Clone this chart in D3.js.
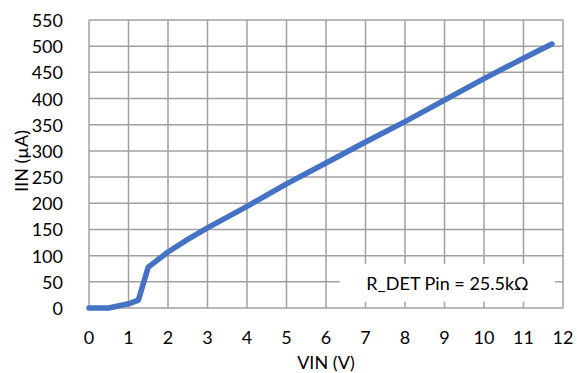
<!DOCTYPE html>
<html>
<head>
<meta charset="utf-8">
<script src="https://cdn.jsdelivr.net/npm/d3@7/dist/d3.min.js"></script>
<style>
  html, body { margin: 0; padding: 0; background: #fff; }
  svg text { font-family: Lato, "Open Sans", sans-serif; fill: #000; }
</style>
</head>
<body>
<div id="chart"></div>
<script>
// VIN (V) vs IIN (uA)
const vin = [0, 0.5, 1, 1.25, 1.5, 2, 2.5, 3, 4, 5, 6, 7, 8, 9, 10, 11, 11.72];
const iin = [0, 0, 8, 15, 78, 107, 131, 153, 194, 237, 277, 317, 356, 397, 438, 477, 504];
const xTicks = [0, 1, 2, 3, 4, 5, 6, 7, 8, 9, 10, 11, 12];
const yTicks = [0, 50, 100, 150, 200, 250, 300, 350, 400, 450, 500, 550];
const note = 'R_DET Pin = 25.5kΩ';

const width = 577, height = 373;
const margin = { top: 20, right: 14, bottom: 65, left: 89 };
const fontSize = '18px';

const svg = d3.select('#chart').append('svg')
    .attr('width', width)
    .attr('height', height);

const x = d3.scaleLinear().domain([0, 12]).range([margin.left, width - margin.right]);
const y = d3.scaleLinear().domain([0, 550]).range([height - margin.bottom, margin.top]);

const gridColor = '#a0a0a0';

// Gridlines
svg.append('g')
    .selectAll('line')
    .data(xTicks)
    .enter().append('line')
    .attr('x1', d => x(d)).attr('x2', d => x(d))
    .attr('y1', y(0)).attr('y2', y(550))
    .attr('stroke', gridColor).attr('stroke-width', 1.5);

svg.append('g')
    .selectAll('line')
    .data(yTicks)
    .enter().append('line')
    .attr('x1', x(0)).attr('x2', x(12))
    .attr('y1', d => y(d)).attr('y2', d => y(d))
    .attr('stroke', gridColor).attr('stroke-width', 1.5);

// Note box covering the grid
svg.append('rect')
    .attr('x', x(6.35)).attr('y', y(84))
    .attr('width', x(11.8) - x(6.35))
    .attr('height', y(12) - y(84))
    .attr('fill', '#fff');

svg.append('text')
    .attr('x', (x(6.35) + x(11.8)) / 2)
    .attr('y', y(48))
    .attr('text-anchor', 'middle')
    .attr('dominant-baseline', 'central')
    .style('font-size', fontSize)
    .text(note);

// Axis labels
svg.append('g')
    .selectAll('text')
    .data(xTicks)
    .enter().append('text')
    .attr('x', d => x(d))
    .attr('y', y(0) + 29)
    .attr('text-anchor', 'middle')
    .attr('dominant-baseline', 'central')
    .style('font-size', fontSize)
    .text(d => d);

svg.append('g')
    .selectAll('text')
    .data(yTicks)
    .enter().append('text')
    .attr('x', margin.left - 26)
    .attr('y', d => y(d))
    .attr('text-anchor', 'end')
    .attr('dominant-baseline', 'central')
    .style('font-size', fontSize)
    .text(d => d);

svg.append('text')
    .attr('x', (x(0) + x(12)) / 2)
    .attr('y', 362)
    .attr('text-anchor', 'middle')
    .attr('dominant-baseline', 'central')
    .style('font-size', fontSize)
    .text('VIN (V)');

svg.append('text')
    .attr('transform', `translate(21,${(y(0) + y(550)) / 2 - 3}) rotate(-90)`)
    .attr('text-anchor', 'middle')
    .attr('dominant-baseline', 'central')
    .style('font-size', fontSize)
    .text('IIN (µA)');

// Data line
const line = d3.line()
    .x((d, i) => x(vin[i]))
    .y(d => y(d));

svg.append('path')
    .datum(iin)
    .attr('d', line)
    .attr('fill', 'none')
    .attr('stroke', '#4472C4')
    .attr('stroke-width', 5.5)
    .attr('stroke-linejoin', 'round')
    .attr('stroke-linecap', 'round');
</script>
</body>
</html>
